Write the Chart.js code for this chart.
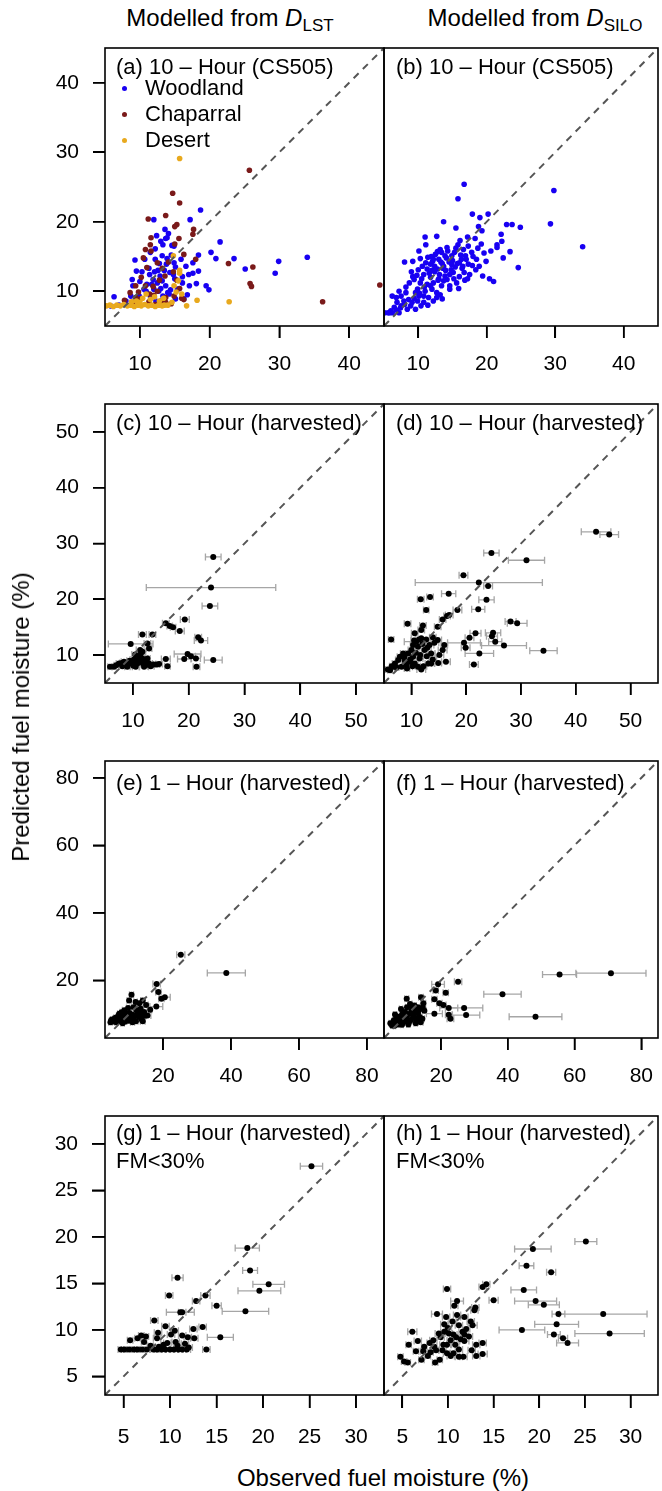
<!DOCTYPE html>
<html>
<head>
<meta charset="utf-8">
<script src="https://cdn.jsdelivr.net/npm/chart.js@4.4.0/dist/chart.umd.min.js"></script>
<style>
  body { margin: 0; background: #fff; }
  #fig { position: relative; width: 662px; height: 1491px; overflow: hidden;
         font-family: "Liberation Sans", Arial, sans-serif; color: #000; }
  .txt { position: absolute; white-space: nowrap; line-height: 1; }
  .plab { font-size: 22px; }
  .ttl { font-size: 24px; }
  .dot { position: absolute; width: 5px; height: 5px; border-radius: 50%; }
</style>
</head>
<body>
<div id="fig">
  <div class="txt ttl" style="left:0;width:460px;top:6px;text-align:center">Modelled from <i>D</i><span style="font-size:17px;position:relative;top:5px">LST</span></div>
  <div class="txt ttl" style="left:305px;width:460px;top:6px;text-align:center">Modelled from <i>D</i><span style="font-size:17px;position:relative;top:5px">SILO</span></div>

  <div class="txt plab" style="left:116px;top:56px">(a) 10 – Hour (CS505)</div>
  <div class="txt plab" style="left:396px;top:56px">(b) 10 – Hour (CS505)</div>
  <div class="txt plab" style="left:116px;top:412px">(c) 10 – Hour (harvested)</div>
  <div class="txt plab" style="left:396px;top:412px">(d) 10 – Hour (harvested)</div>
  <div class="txt plab" style="left:116px;top:772px">(e) 1 – Hour (harvested)</div>
  <div class="txt plab" style="left:396px;top:772px">(f) 1 – Hour (harvested)</div>
  <div class="txt plab" style="left:116px;top:1122px">(g) 1 – Hour (harvested)</div>
  <div class="txt plab" style="left:396px;top:1122px">(h) 1 – Hour (harvested)</div>
  <div class="txt plab" style="left:116px;top:1150px">FM&lt;30%</div>
  <div class="txt plab" style="left:396px;top:1150px">FM&lt;30%</div>

  <div class="dot" style="left:122px;top:86px;background:#1800f2"></div>
  <div class="txt plab" style="left:145px;top:77px">Woodland</div>
  <div class="dot" style="left:122px;top:112px;background:#7a1a1a"></div>
  <div class="txt plab" style="left:145px;top:103px">Chaparral</div>
  <div class="dot" style="left:122px;top:138px;background:#e8a91e"></div>
  <div class="txt plab" style="left:145px;top:129px">Desert</div>

  <div class="txt ttl" style="left:21px;top:717px;transform:translate(-50%,-50%) rotate(-90deg)">Predicted fuel moisture (%)</div>
  <div class="txt ttl" style="left:383px;top:1478px;transform:translate(-50%,-50%)">Observed fuel moisture (%)</div>
</div>
<script>
// axis limits and tick labels per row
const rowLimits = [[5, 45], [5, 55], [2.9, 85], [3, 33]];
const rowTicks = [[10, 20, 30, 40], [10, 20, 30, 40, 50], [20, 40, 60, 80], [5, 10, 15, 20, 25, 30]];

// (a) LST, CS505 sticks : [observed, predicted]
const aWoodland = [[18.7,21.7],[17.2,20.3],[12.0,20.3],[13.6,18.9],[13.9,17.7],[13.3,16.7],[13.7,17.6],[12.2,16.1],[14.9,16.5],[13.2,15.1],[9.3,14.5],[10.7,14.6],[11.5,15.6],[12.2,14.6],[13.9,14.7],[14.9,14.1],[15.1,13.5],[18.4,15.2],[17.6,14.1],[20.2,15.6],[20.9,14.7],[21.5,17.1],[23.5,14.7],[25.1,13.2],[29.4,12.6],[29.9,14.3],[34.0,14.9],[19.5,10.8],[19.9,10.2],[18.1,11.1],[17.1,10.8],[18.4,12.9],[17.6,12.6],[17.0,12.4],[16.1,12.1],[15.0,11.8],[16.1,11.2],[11.3,13.3],[11.4,12.4],[11.9,11.7],[12.5,11.2],[12.9,12.2],[13.2,11.5],[13.7,10.8],[14.3,12.7],[8.9,11.7],[9.0,10.8],[8.7,9.3],[6.3,9.2],[8.0,8.6],[9.9,9.3],[11.5,9.3],[13.3,9.3],[14.4,10.2],[15.4,10.3],[16.3,8.9],[15.1,8.9],[10.6,10.3],[12.0,10.3],[12.7,10.0],[13.8,13.9],[12.6,13.0],[14.5,15.2],[10.3,12.8],[11.0,11.0],[14.0,9.8],[16.8,9.5],[7.0,8.0],[5.8,7.9],[12.3,8.6],[12.8,14.0],[13.5,13.0],[14.8,12.4],[12.1,12.8],[11.7,11.0],[13.0,10.4],[14.2,9.6],[10.9,10.0],[15.9,14.6],[14.6,16.6],[13.0,17.2],[12.4,18.0],[14.1,18.3],[16.6,13.6],[10.0,11.4],[9.5,12.9]];
const aChaparral = [[25.7,27.4],[14.7,24.1],[15.7,22.7],[11.2,20.4],[13.7,20.9],[15.3,19.6],[15.0,19.3],[17.7,18.9],[17.6,18.2],[15.6,17.6],[15.0,16.8],[11.6,17.7],[11.5,16.7],[10.8,16.0],[11.6,15.8],[16.3,15.3],[18.0,14.6],[10.5,14.8],[12.5,14.1],[13.2,13.3],[14.8,12.8],[10.2,12.0],[9.4,10.8],[8.6,9.8],[22.7,14.0],[26.2,13.5],[25.8,11.1],[26.0,10.7],[36.2,8.5],[44.4,10.9],[11.9,10.7],[12.5,10.0],[13.7,9.1],[16.3,8.8],[15.7,10.4],[10.1,8.9],[12.2,8.1],[13.7,8.4],[9.4,9.1],[11.4,9.6],[14.5,8.2],[7.8,8.7],[12.0,9.4],[13.0,8.6],[14.9,9.3],[11.3,8.5],[12.8,11.6],[10.8,10.8],[9.8,9.9],[15.3,11.6],[13.6,12.2],[14.1,14.2],[11.0,13.4],[16.0,9.0],[9.0,8.4]];
const aDesert = [[15.7,29.1],[18.2,8.7],[22.8,8.5],[16.7,7.9],[14.8,15.1],[15.7,13.0],[15.7,12.6],[14.9,10.8],[16.0,9.6],[13.5,8.0],[5.2,7.9],[5.7,8.0],[6.2,7.8],[6.7,8.0],[7.2,7.9],[7.7,8.1],[8.2,7.9],[8.7,8.0],[9.2,7.8],[9.7,8.0],[10.2,7.9],[10.7,8.1],[11.2,7.9],[11.7,8.0],[12.2,7.8],[12.7,8.0],[13.2,7.9],[14.0,8.0],[9.5,8.6],[10.4,9.0],[10.9,9.6],[11.5,8.8],[12.1,9.2],[12.8,8.6],[13.4,9.0],[10.0,8.4],[8.8,8.5],[15.2,9.9],[15.5,11.5],[14.6,8.4]];

// (b) SILO, CS505 sticks
const bWoodland = [[16.7,25.4],[15.8,23.3],[29.8,24.5],[29.3,19.7],[34.0,16.4],[17.9,21.1],[19.0,20.6],[20.2,21.1],[13.7,20.0],[15.5,19.1],[17.2,17.8],[18.3,17.6],[18.8,19.3],[19.3,18.7],[22.9,19.6],[23.7,19.6],[24.9,19.2],[22.1,18.2],[22.2,17.2],[21.5,16.7],[21.5,16.3],[23.4,15.7],[22.4,14.8],[24.6,13.4],[20.4,11.8],[21.0,11.4],[11.0,17.8],[11.1,16.7],[12.7,17.9],[10.1,15.8],[8.0,14.2],[9.2,14.3],[10.3,14.7],[15.8,16.7],[16.6,16.0],[18.7,16.2],[19.6,15.5],[19.9,14.3],[18.5,14.6],[18.9,13.6],[18.4,13.1],[17.5,12.4],[16.7,12.7],[16.0,12.1],[15.1,12.7],[14.2,16.3],[13.4,15.6],[12.2,14.6],[11.8,13.9],[11.3,13.2],[10.8,12.4],[11.8,12.0],[12.8,13.2],[13.7,13.6],[14.5,14.2],[14.9,15.1],[16.3,14.6],[17.3,13.9],[15.4,13.5],[13.1,12.4],[14.2,11.7],[12.2,11.2],[13.4,10.8],[14.6,10.3],[12.7,9.8],[12.2,8.6],[10.8,8.4],[9.4,11.7],[8.7,11.2],[9.9,10.3],[8.2,9.8],[7.2,10.0],[6.2,9.3],[6.9,8.4],[6.5,7.7],[7.5,7.9],[8.4,7.4],[5.6,6.9],[5.1,6.9],[7.2,6.9],[8.9,7.9],[9.9,8.6],[10.8,9.3],[7.9,8.6],[12.0,10.3],[11.3,11.0],[10.3,11.2],[10.6,13.6],[11.1,14.1],[12.1,14.3],[13.0,14.6],[13.9,15.1],[12.5,15.3],[13.2,16.0],[16.0,14.1],[16.9,15.1],[17.8,15.6],[17.3,16.5],[14.6,12.4],[13.7,11.5],[15.6,11.2],[14.6,10.8],[11.5,9.1],[12.7,9.1],[10.1,9.3],[9.1,8.4],[10.4,7.9],[7.5,9.3],[6.8,9.1],[6.0,7.2],[9.6,9.8],[11.9,15.0],[14.0,13.0],[15.0,14.4],[13.5,14.0],[12.4,12.8],[11.0,10.0],[13.0,11.8],[9.0,12.8],[15.2,11.8],[16.4,13.3],[18.0,15.0],[10.5,11.8],[11.6,12.6],[12.4,13.6],[13.3,14.2],[14.1,14.8],[15.3,15.6],[16.2,15.2],[15.7,14.0],[14.8,13.1],[13.9,12.2],[12.9,11.6],[11.8,10.8],[10.9,10.6],[10.2,9.7],[9.4,9.0],[8.6,8.8],[8.0,8.1],[7.4,7.6],[6.8,7.3],[6.2,6.9],[5.8,6.9],[9.8,12.3],[12.0,13.0],[13.6,13.3],[14.9,13.8],[16.5,13.6],[17.0,14.6],[17.9,13.7],[16.8,11.6],[15.9,10.4],[13.2,9.5],[11.4,8.0],[9.6,7.4],[14.3,15.8],[12.8,15.7],[11.4,14.9],[10.0,13.1],[9.2,12.1],[15.5,16.2],[16.1,17.3],[19.2,16.8],[20.6,15.8],[19.4,12.2],[17.2,11.8],[13.5,8.9],[8.2,10.6]];

// harvested samples : [observed, predicted, observed error half-width]
const cHarv = [[24.4,27.6,1.4],[24.0,22.1,11.6],[23.8,18.8,1.4],[19.3,16.4,0.8],[15.9,15.7,0.6],[16.6,15.2,0.5],[17.2,15.0,0.5],[18.4,14.3,0.8],[11.7,13.7,0.7],[13.5,13.7,0.6],[9.6,12.0,4.0],[12.6,12.1,0.6],[12.9,11.2,0.5],[21.7,13.2,0.6],[22.2,12.6,1.2],[19.8,10.2,2.4],[20.4,9.8,0.8],[19.2,9.3,1.2],[21.3,9.4,0.8],[24.4,9.1,1.6],[21.4,7.9,0.6],[15.9,9.3,0.8],[16.2,8.0,0.5],[14.7,8.4,0.6],[13.7,8.3,0.8],[11.4,10.2,0.8],[11.1,9.7,0.6],[11.7,9.4,1.0],[10.8,8.8,0.8],[9.6,8.5,0.6],[8.4,8.8,0.5],[7.5,8.5,0.5],[6.6,7.9,0.4],[5.9,7.9,0.4],[9.0,7.9,0.5],[10.5,7.9,0.6],[12.0,7.9,0.8],[12.9,8.5,0.6],[11.3,10.9,0.7],[10.8,8.5,0.5],[12.3,8.2,0.6],[8.1,8.0,0.5],[11.5,8.8,0.6],[10.2,9.2,0.7],[12.4,9.0,0.5],[7.0,8.2,0.4],[8.8,8.3,0.5],[9.9,8.9,0.5],[10.4,10.1,0.6],[11.0,9.2,0.5],[11.8,8.5,0.6],[12.6,9.4,0.5],[13.2,8.0,0.6],[14.2,8.3,0.6],[8.0,8.6,0.4],[9.4,9.0,0.5],[10.1,8.1,0.5],[11.7,10.6,0.6]];
const dHarv = [[43.7,32.1,2.7],[46.1,31.6,1.7],[24.6,28.3,1.4],[31.0,27.0,3.3],[19.5,24.3,0.8],[22.3,23.0,11.6],[24.0,22.4,0.8],[16.8,21.0,1.3],[11.7,20.0,0.6],[13.4,20.4,0.6],[23.7,19.9,1.4],[22.2,18.2,1.2],[12.7,18.1,0.5],[18.4,18.1,0.8],[16.9,17.2,0.7],[16.5,17.0,0.6],[15.7,16.4,0.6],[14.8,15.1,0.6],[28.1,16.0,1.0],[29.3,15.7,1.8],[9.3,15.6,0.6],[12.1,15.3,0.6],[11.8,14.5,0.6],[10.6,13.9,0.6],[21.7,13.9,1.0],[24.9,14.0,1.4],[24.7,13.4,1.0],[20.6,13.1,0.8],[25.3,12.4,1.2],[26.9,11.7,4.1],[19.6,12.2,3.0],[19.9,11.3,0.8],[22.4,10.3,2.6],[34.1,10.8,2.5],[21.4,8.3,0.8],[6.3,12.8,0.5],[15.7,10.9,0.8],[16.0,11.8,0.6],[16.3,8.8,0.8],[14.9,8.6,0.6],[13.6,8.5,0.6],[11.8,13.0,1.8],[12.7,12.8,0.7],[14.2,12.2,0.8],[14.8,12.7,0.7],[13.3,11.8,0.8],[12.4,10.9,0.6],[11.2,11.5,0.7],[10.3,11.8,0.5],[10.0,10.9,0.6],[9.4,10.3,0.5],[8.5,10.3,0.5],[7.9,9.7,0.5],[7.6,9.1,0.5],[7.0,8.5,0.5],[6.7,7.9,0.4],[6.1,7.3,0.4],[5.7,7.4,0.4],[8.2,7.9,0.5],[9.7,8.8,0.6],[10.6,8.5,0.6],[11.2,7.9,1.0],[11.8,7.4,0.8],[10.3,9.7,0.6],[11.5,9.4,0.6],[13.6,10.3,0.7],[15.1,10.0,0.8],[9.1,8.2,0.5],[13.1,8.5,0.6],[12.0,12.0,0.7],[13.9,13.2,0.6],[10.9,12.4,2.2],[8.8,9.0,0.5],[9.8,9.2,0.5],[10.8,10.4,0.6],[11.6,10.0,0.6],[12.8,9.8,0.6],[13.9,9.2,0.7],[12.2,8.0,0.6],[9.2,7.6,0.5],[7.3,7.8,0.4],[6.4,8.0,0.4],[10.5,12.6,0.6],[11.4,12.8,0.6],[12.9,11.3,0.7],[8.7,9.6,0.5],[10.2,8.0,0.5]];
const eHarv = [[25.2,27.6,1.2],[38.6,22.2,5.6],[18.1,18.9,1.1],[18.6,16.5,0.8],[19.5,14.5,0.8],[20.5,15.0,1.6],[18.0,12.2,1.9],[10.7,15.7,0.6],[10.0,14.0,0.6],[11.3,12.0,0.6],[13.0,13.2,0.8],[14.0,14.0,0.6],[15.0,12.7,0.6],[15.4,9.6,1.0],[8.6,11.1,0.6],[12.5,10.6,0.8],[14.0,7.9,0.7],[4.7,8.1,0.5],[5.7,8.6,0.5],[6.6,7.9,0.5],[7.6,9.1,0.6],[8.6,8.3,0.5],[9.6,9.3,0.6],[10.5,8.3,0.6],[11.5,9.6,0.7],[12.0,7.9,0.6],[13.0,9.1,0.7],[7.1,10.1,0.5],[10.1,10.3,0.6],[6.2,7.6,0.4],[8.1,7.3,0.5],[11.0,7.6,0.6],[9.1,10.1,0.5],[13.5,10.1,0.7],[14.4,10.6,0.8],[5.2,7.8,0.4],[7.0,8.4,0.5],[9.8,8.0,0.5],[6.0,8.9,0.5],[7.3,8.0,0.5],[8.3,9.6,0.5],[9.3,8.7,0.5],[10.3,9.0,0.5],[11.2,8.8,0.5],[12.4,9.4,0.5],[13.6,8.5,0.5],[5.0,8.4,0.5],[6.8,9.5,0.5],[8.8,7.8,0.5],[10.8,9.9,0.5],[12.1,11.2,0.5],[9.7,11.8,0.5],[11.9,13.6,0.5],[14.6,9.5,0.5],[7.8,10.5,0.5],[4.5,7.6,0.5],[6.4,8.2,0.5],[16.2,11.3,0.5],[13.4,11.6,0.5]];
const fHarv = [[70.9,22.1,10.5],[55.5,21.7,5.1],[38.4,15.9,5.6],[48.3,9.2,7.9],[25.1,19.6,1.1],[19.1,18.8,1.9],[18.4,17.0,0.8],[21.4,16.3,0.8],[14.0,15.0,0.7],[18.0,14.4,0.8],[19.5,13.2,0.8],[20.7,12.7,0.8],[22.3,11.8,2.7],[26.9,11.8,5.6],[18.0,10.1,2.4],[22.3,9.8,1.0],[27.5,9.7,4.1],[22.8,8.6,1.0],[9.7,14.5,0.6],[10.7,13.0,0.6],[14.7,13.2,0.7],[12.2,11.6,0.6],[6.2,9.9,0.5],[4.8,7.3,0.4],[5.8,8.1,0.4],[6.7,7.1,0.4],[7.7,8.6,0.5],[8.7,7.6,0.5],[9.7,9.1,0.5],[10.6,7.9,0.6],[11.6,9.6,0.6],[12.6,8.3,0.6],[13.6,9.1,0.7],[13.9,7.6,0.7],[9.2,10.6,0.5],[11.1,10.9,0.6],[8.2,9.6,0.5],[7.2,6.9,0.4],[5.3,6.6,0.4],[10.2,6.9,0.5],[13.1,10.3,0.7],[12.0,12.5,0.6],[8.0,11.5,0.5],[6.3,8.3,0.4],[7.2,7.8,0.4],[8.0,8.0,0.4],[9.0,8.2,0.5],[10.0,8.0,0.5],[11.0,8.3,0.5],[12.1,9.0,0.5],[13.2,8.0,0.6],[14.4,8.6,0.6],[6.0,7.5,0.4],[7.0,9.2,0.4],[8.5,10.2,0.5],[9.5,9.7,0.5],[10.4,10.0,0.5],[11.5,11.0,0.5],[12.8,10.5,0.6],[13.8,11.5,0.6],[14.5,12.0,0.6],[5.5,7.0,0.4],[9.8,12.0,0.5],[11.0,12.4,0.5],[13.0,12.0,0.6],[15.0,11.0,0.6],[12.4,7.3,0.5],[8.3,6.8,0.4],[6.0,6.5,0.4]];
const gHarv = [[25.2,27.6,1.2],[18.3,18.8,1.3],[18.6,16.4,0.8],[20.6,14.9,1.7],[19.6,14.2,2.3],[18.1,12.0,2.5],[10.8,15.6,0.6],[9.9,13.7,0.4],[13.8,13.7,0.5],[12.8,13.1,0.4],[15.0,12.6,0.5],[11.1,11.9,1.5],[11.3,11.9,0.4],[8.3,11.0,0.4],[9.5,10.4,0.4],[8.7,9.7,0.4],[10.5,9.9,0.4],[12.5,10.1,0.4],[13.5,10.3,0.4],[15.4,9.2,1.4],[13.9,7.9,0.4],[12.6,9.1,0.4],[11.9,9.2,0.4],[11.3,9.4,0.4],[10.1,9.5,0.4],[5.7,8.9,0.3],[6.5,9.1,0.3],[6.9,9.4,0.3],[7.4,9.3,0.3],[7.2,8.7,0.3],[8.6,9.1,0.4],[9.7,8.6,0.4],[10.6,8.7,0.4],[4.7,7.9,0.3],[5.1,7.9,0.3],[5.6,7.9,0.3],[6.1,7.9,0.3],[6.5,7.9,0.3],[7.0,7.9,0.3],[7.5,7.9,0.3],[8.2,7.9,0.3],[8.6,7.9,0.3],[9.1,7.9,0.4],[9.5,7.9,0.4],[10.0,7.9,0.4],[10.4,7.9,0.4],[10.9,7.9,0.4],[11.3,7.9,0.4],[11.8,7.9,0.4],[12.0,8.1,0.4],[8.8,8.2,0.4],[9.3,8.4,0.3],[10.8,8.3,0.4],[11.6,8.5,0.4],[7.9,8.3,0.3]];
const hHarv = [[25.1,19.5,1.2],[19.3,18.7,2.0],[18.6,16.9,0.8],[21.3,16.2,0.5],[18.3,14.3,1.4],[19.6,13.1,2.3],[20.5,12.7,1.7],[22.1,11.7,0.7],[27.0,11.7,4.8],[21.9,10.6,2.4],[18.1,10.0,2.5],[27.7,9.6,3.8],[21.6,9.5,0.7],[22.6,9.1,0.5],[23.1,8.6,1.2],[9.9,14.4,0.4],[13.8,14.6,0.4],[14.2,14.9,0.4],[15.0,13.2,0.5],[11.0,13.1,0.7],[10.7,12.6,0.4],[8.8,11.7,0.6],[9.8,11.4,0.4],[11.8,11.4,0.4],[12.9,12.1,0.4],[10.5,10.9,0.4],[11.2,10.5,0.4],[12.7,10.5,0.5],[6.1,9.8,0.5],[9.6,9.8,0.4],[10.1,9.6,0.4],[10.6,9.5,0.4],[11.6,9.8,0.4],[11.8,9.5,0.4],[6.7,8.8,0.4],[5.7,8.4,0.3],[8.4,8.9,0.4],[9.2,9.2,0.4],[10.3,8.9,0.4],[11.8,8.8,0.5],[13.1,8.4,0.4],[13.8,8.6,0.4],[6.5,7.7,0.3],[7.3,7.7,0.3],[8.1,7.6,0.3],[8.7,7.8,0.3],[9.4,7.8,0.4],[9.9,7.5,0.4],[11.2,7.9,0.4],[11.7,7.1,0.4],[11.2,7.1,0.4],[13.1,7.2,0.4],[13.8,7.4,0.5],[4.8,7.1,0.3],[5.2,6.6,0.3],[5.6,6.5,0.3],[8.6,6.5,0.3],[9.1,6.8,0.3],[7.1,6.8,0.3],[10.3,7.2,0.4],[7.4,8.2,0.3],[8.5,8.2,0.3],[9.9,8.4,0.4],[10.8,8.4,0.4],[13.0,12.4,0.4],[12.3,9.3,0.4],[9.0,9.6,0.4],[10.9,9.2,0.4],[9.5,8.4,0.4],[8.0,8.6,0.3],[10.0,10.2,0.4],[11.4,9.0,0.4],[12.5,10.9,0.4],[7.8,7.2,0.3],[10.6,7.5,0.4],[12.6,7.8,0.4],[9.6,10.6,0.4],[11.0,11.6,0.4],[12.0,10.1,0.4]];

const FONT = '"Liberation Sans", Arial, sans-serif';
const fig = document.getElementById('fig');

// panel boxes in page pixels
const rowBox = [
    { top: 48, bottom: 326, axisH: 54, tickLen: 12, xPad: 14 },
    { top: 404, bottom: 683, axisH: 54, tickLen: 12, xPad: 14 },
    { top: 761, bottom: 1038, axisH: 54, tickLen: 12, xPad: 14 },
    { top: 1116, bottom: 1395, axisH: 60, tickLen: 13, xPad: 17 }
];

// frame round the plotting region, plus outward tick marks at the scale ticks
const framePlugin = {
    id: 'frame',
    afterDraw(chart, args, opts) {
        const a = chart.chartArea, ctx = chart.ctx;
        const len = opts.tickLen || 12;
        ctx.save();
        ctx.strokeStyle = '#000';
        ctx.lineWidth = 1.6;
        ctx.strokeRect(a.left, a.top, a.right - a.left, a.bottom - a.top);
        ctx.beginPath();
        chart.scales.x.ticks.forEach(t => {
            const px = chart.scales.x.getPixelForValue(t.value);
            ctx.moveTo(px, a.bottom);
            ctx.lineTo(px, a.bottom + len);
        });
        if (chart.scales.y.options.display) {
            chart.scales.y.ticks.forEach(t => {
                const py = chart.scales.y.getPixelForValue(t.value);
                ctx.moveTo(a.left, py);
                ctx.lineTo(a.left - len, py);
            });
        }
        ctx.stroke();
        ctx.restore();
    }
};

// horizontal error bars on the observed values
const errPlugin = {
    id: 'errbars',
    beforeDatasetsDraw(chart, args, opts) {
        if (!opts.rows) return;
        const xs = chart.scales.x, ys = chart.scales.y, ctx = chart.ctx;
        ctx.save();
        ctx.strokeStyle = '#a6a6a6';
        ctx.lineWidth = 1.3;
        opts.rows.forEach(r => {
            const x1 = xs.getPixelForValue(r[0] - r[2]);
            const x2 = xs.getPixelForValue(r[0] + r[2]);
            const y = ys.getPixelForValue(r[1]);
            ctx.beginPath();
            ctx.moveTo(x1, y); ctx.lineTo(x2, y);
            ctx.moveTo(x1, y - 3.5); ctx.lineTo(x1, y + 3.5);
            ctx.moveTo(x2, y - 3.5); ctx.lineTo(x2, y + 3.5);
            ctx.stroke();
        });
        ctx.restore();
    }
};

function pts(arr) {
    return arr.map(p => ({ x: p[0], y: p[1] }));
}

function makePanel(row, side, series, errRows) {
    const g = rowBox[row];
    const lim = rowLimits[row];
    const left = side === 'left';
    const cvLeft = left ? 0 : 378;
    const cvW = left ? 390 : 284;
    const cvH = (g.bottom - g.top) + 6 + g.axisH;

    const cv = document.createElement('canvas');
    cv.width = cvW;
    cv.height = cvH;
    cv.style.cssText = `position:absolute;left:${cvLeft}px;top:${g.top - 6}px;width:${cvW}px;height:${cvH}px`;
    fig.insertBefore(cv, fig.firstChild);

    const datasets = [{
        type: 'line',
        data: [{ x: lim[0], y: lim[0] }, { x: lim[1], y: lim[1] }],
        borderColor: '#555',
        borderWidth: 2,
        borderDash: [7, 6],
        pointRadius: 0
    }];
    series.forEach(s => datasets.push({
        data: pts(s.data),
        pointRadius: s.r,
        pointBackgroundColor: s.color,
        pointBorderWidth: 0,
        borderColor: s.color
    }));

    const axisCfg = pad => ({
        afterBuildTicks: s => { s.ticks = rowTicks[row].map(v => ({ value: v })); },
        grid: { display: true, drawOnChartArea: false, drawTicks: true, tickLength: g.tickLen,
                color: '#000', lineWidth: 1.6, tickColor: '#000', tickWidth: 1.6 },
        border: { display: false },
        ticks: { font: { family: FONT, size: 21 }, color: '#000', padding: pad, maxRotation: 0, autoSkip: false }
    });

    new Chart(cv.getContext('2d'), {
        type: 'scatter',
        data: { datasets },
        options: {
            responsive: false,
            animation: false,
            events: [],
            layout: { padding: left ? { top: 6, right: 6, left: 0, bottom: 0 } : { top: 6, right: 1, left: 6, bottom: 0 } },
            plugins: {
                legend: { display: false },
                tooltip: { enabled: false },
                errbars: { rows: errRows },
                frame: { tickLen: g.tickLen }
            },
            scales: {
                x: Object.assign({ type: 'linear', min: lim[0], max: lim[1],
                    afterFit: s => { s.height = g.axisH; s.paddingLeft = 0; s.paddingRight = 0; } }, axisCfg(g.xPad)),
                y: Object.assign({ type: 'linear', min: lim[0], max: lim[1], display: left,
                    afterFit: s => { s.width = left ? 105 : 0; s.paddingTop = 0; s.paddingBottom = 0; } }, axisCfg(14))
            }
        },
        plugins: [errPlugin, framePlugin]
    });
}

const BLUE = '#1800f2', RED = '#7a1a1a', GOLD = '#e8a91e', BLACK = '#000';

makePanel(0, 'left', [
    { data: aDesert, color: GOLD, r: 2.8 },
    { data: aChaparral, color: RED, r: 2.8 },
    { data: aWoodland, color: BLUE, r: 2.8 }
]);
makePanel(0, 'right', [{ data: bWoodland, color: BLUE, r: 2.8 }]);
makePanel(1, 'left', [{ data: cHarv, color: BLACK, r: 3 }], cHarv);
makePanel(1, 'right', [{ data: dHarv, color: BLACK, r: 3 }], dHarv);
makePanel(2, 'left', [{ data: eHarv, color: BLACK, r: 3 }], eHarv);
makePanel(2, 'right', [{ data: fHarv, color: BLACK, r: 3 }], fHarv);
makePanel(3, 'left', [{ data: gHarv, color: BLACK, r: 3 }], gHarv);
makePanel(3, 'right', [{ data: hHarv, color: BLACK, r: 3 }], hHarv);
</script>
</body>
</html>
